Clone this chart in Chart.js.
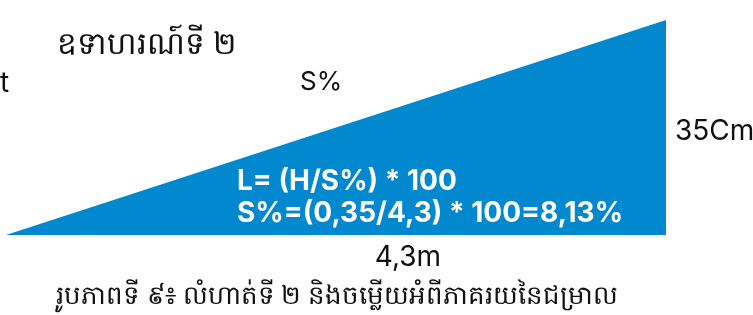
<!DOCTYPE html>
<html>
<head>
<meta charset="utf-8">
<script src="https://cdn.jsdelivr.net/npm/chart.js@4/dist/chart.umd.min.js"></script>
<style>
  html, body { margin: 0; padding: 0; background: #fff; }
  #wrap { width: 753px; height: 315px; position: relative; }
</style>
</head>
<body>
<div id="wrap"><canvas id="slopeChart" width="753" height="315"></canvas></div>
<script>
// run (m) and rise (m) of the slope
const runX = [0, 4.3];
const riseY = [0, 0.35];
const labelRun = '4,3m';
const labelRise = '35Cm';
const labelSlope = 'S%';
const formulaLines = ['L= (H/S%) * 100', 'S%=(0,35/4,3) * 100=8,13%'];
const titleText = 'ឧទាហរណ៍ទី ២';
const captionText = 'រូបភាពទី ៩៖ លំហាត់ទី ២ និងចម្លើយអំពីភាគរយនៃជម្រាល';

const textPlugin = {
    id: 'slopeText',
    afterDatasetsDraw: function (chart) {
        const c = chart.ctx;
        const x = chart.scales.x;
        c.save();
        c.textBaseline = 'alphabetic';
        c.fillStyle = '#111';
        c.font = '31px "Noto Sans", sans-serif';
        c.fillText(titleText, 57, 54);
        c.font = '28px Inter, sans-serif';
        c.fillText('t', 0, 92);
        c.font = '26px Inter, sans-serif';
        c.fillText(labelSlope, 300, 90);
        c.font = '28px Inter, sans-serif';
        c.fillText(labelRise, x.getPixelForValue(runX[1]) + 9, 140);
        c.textAlign = 'center';
        c.fillText(labelRun, 408, 266);
        c.font = '26px "Noto Sans", sans-serif';
        c.fillText(captionText, 337, 304);
        c.textAlign = 'left';
        c.fillStyle = '#fff';
        c.font = 'bold 28px Inter, sans-serif';
        c.fillText(formulaLines[0], 237, 190);
        c.fillText(formulaLines[1], 237, 222);
        c.restore();
    }
};

new Chart(document.getElementById('slopeChart').getContext('2d'), {
    type: 'line',
    data: {
        datasets: [{
            data: runX.map(function (v, i) { return { x: v, y: riseY[i] }; }),
            borderColor: '#0288cf',
            backgroundColor: '#0288cf',
            borderWidth: 0,
            pointRadius: 0,
            fill: 'origin'
        }]
    },
    options: {
        responsive: false,
        animation: false,
        layout: { padding: { left: 6, right: 87, top: 20, bottom: 80 } },
        scales: {
            x: { type: 'linear', display: false, min: 0, max: 4.3 },
            y: { display: false, min: 0, max: 0.35 }
        },
        plugins: {
            legend: { display: false },
            tooltip: { enabled: false }
        }
    },
    plugins: [textPlugin]
});
</script>
</body>
</html>
